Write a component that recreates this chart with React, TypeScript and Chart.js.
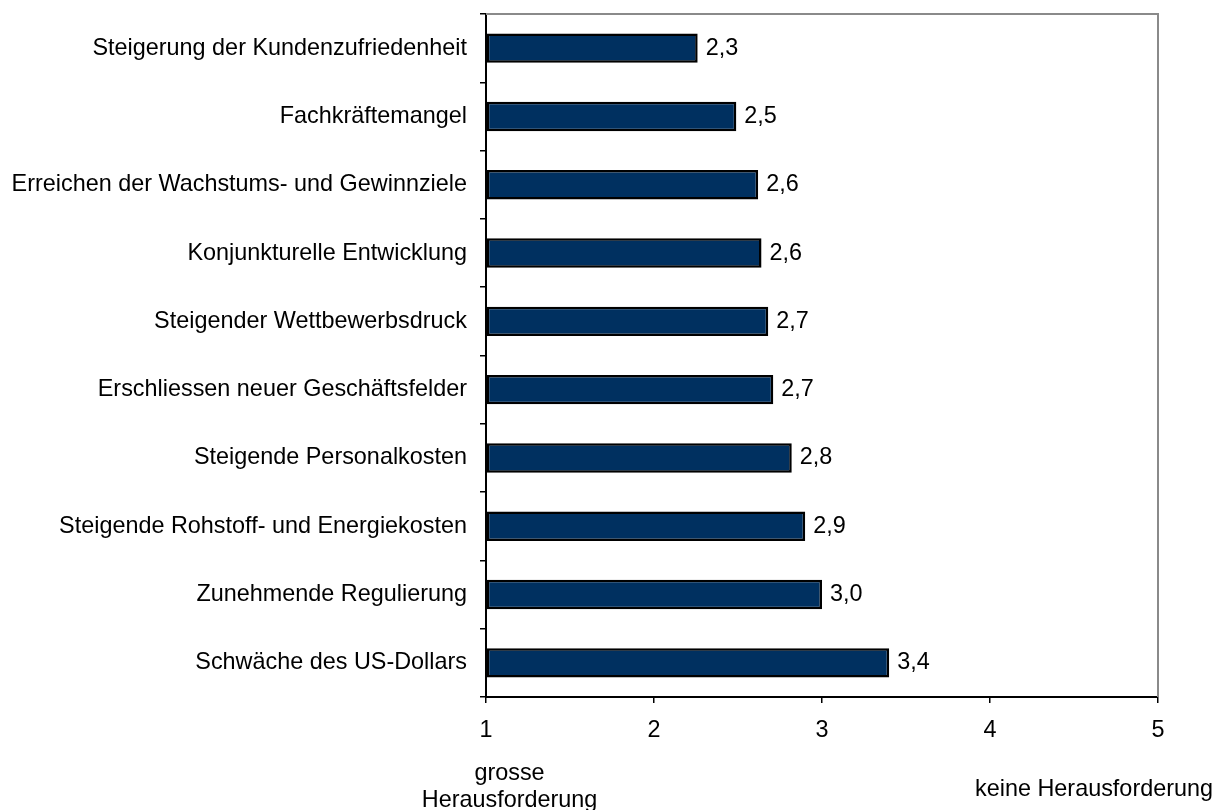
import React, { useEffect, useRef } from "react";
import { Chart, registerables } from "chart.js";

Chart.register(...registerables);

const categories = [
  "Steigerung der Kundenzufriedenheit",
  "Fachkräftemangel",
  "Erreichen der Wachstums- und Gewinnziele",
  "Konjunkturelle Entwicklung",
  "Steigender Wettbewerbsdruck",
  "Erschliessen neuer Geschäftsfelder",
  "Steigende Personalkosten",
  "Steigende Rohstoff- und Energiekosten",
  "Zunehmende Regulierung",
  "Schwäche des US-Dollars",
];
const values = [2.26, 2.49, 2.62, 2.64, 2.68, 2.71, 2.82, 2.9, 3.0, 3.4];
const xMin = 1;
const xMax = 5;
const leftNote = ["grosse", "Herausforderung"];
const rightNote = "keine Herausforderung";

const FONT = "'Liberation Sans', Arial, sans-serif";
const FS = 23.4;

export default function App() {
  const ref = useRef<HTMLCanvasElement>(null);
  useEffect(() => {
    document.body.style.margin = "0";
    const canvas = ref.current!;
    const extras = {
      id: "extras",
      afterDatasetsDraw(chart: any) {
        const { ctx } = chart;
        const meta = chart.getDatasetMeta(0);
        ctx.save();
        ctx.font = `${FS}px ${FONT}`;
        ctx.fillStyle = "#000";
        ctx.textAlign = "left";
        ctx.textBaseline = "middle";
        meta.data.forEach((bar: any, i: number) => {
          ctx.fillText(values[i].toFixed(1).replace(".", ","), bar.x + 8, bar.y);
        });
        ctx.restore();
      },
      afterDraw(chart: any) {
        const { ctx, chartArea } = chart;
        const xs = chart.scales.x;
        ctx.save();
        ctx.strokeStyle = "#8a8a8a";
        ctx.lineWidth = 2;
        ctx.beginPath();
        ctx.moveTo(chartArea.left, chartArea.top);
        ctx.lineTo(chartArea.right, chartArea.top);
        ctx.lineTo(chartArea.right, chartArea.bottom);
        ctx.stroke();
        ctx.font = `${FS}px ${FONT}`;
        ctx.fillStyle = "#000";
        ctx.textAlign = "center";
        ctx.textBaseline = "middle";
        const lx = xs.getPixelForValue(1.14);
        ctx.fillText(leftNote[0], lx, chartArea.bottom + 77);
        ctx.fillText(leftNote[1], lx, chartArea.bottom + 104);
        ctx.textAlign = "right";
        ctx.fillText(rightNote, chartArea.right + 55, chartArea.bottom + 93);
        ctx.restore();
      },
    };
    const chart = new Chart(canvas, {
      type: "bar",
      data: {
        labels: categories,
        datasets: [
          {
            data: values,
            backgroundColor: "#003060",
            borderColor: "#000",
            borderWidth: 2.5,
            borderSkipped: false,
            barPercentage: 0.43,
            categoryPercentage: 1,
            base: xMin,
          },
        ],
      },
      options: {
        indexAxis: "y",
        animation: false,
        responsive: false,
        maintainAspectRatio: false,
        layout: { padding: { top: 14, right: 65, left: 0, bottom: 0 } },
        plugins: { legend: { display: false }, tooltip: { enabled: false } },
        scales: {
          x: {
            min: xMin,
            max: xMax,
            ticks: {
              stepSize: 1,
              color: "#000",
              font: { family: FONT, size: FS },
              padding: 14,
            },
            grid: {
              drawOnChartArea: false,
              drawTicks: true,
              tickLength: 6,
              color: "#000",
              lineWidth: 1.5,
            },
            border: { color: "#000", width: 2 },
            afterFit(s: any) {
              s.height = 113;
            },
          },
          y: {
            ticks: {
              color: "#000",
              font: { family: FONT, size: FS },
              padding: 13,
            },
            grid: {
              offset: true,
              drawOnChartArea: false,
              drawTicks: true,
              tickLength: 6,
              color: "#000",
              lineWidth: 1.5,
            },
            border: { color: "#000", width: 2 },
            afterFit(s: any) {
              s.width = 486;
              s.paddingTop = 0;
              s.paddingBottom = 0;
            },
          },
        },
      },
      plugins: [extras],
    });
    return () => chart.destroy();
  }, []);
  return (
    <div style={{ position: "absolute", left: 0, top: 0, width: 1223, height: 810 }}>
      <canvas ref={ref} width={1223} height={810} style={{ display: "block" }} />
    </div>
  );
}
